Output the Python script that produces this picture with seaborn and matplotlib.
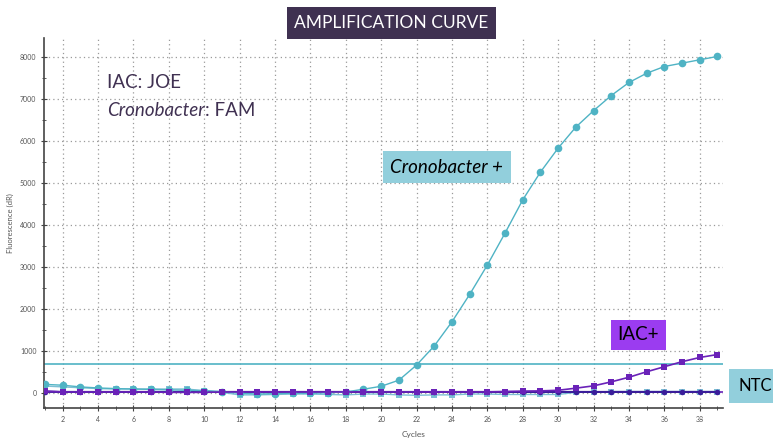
import numpy as np
import pandas as pd
import matplotlib.pyplot as plt
import seaborn as sns
from matplotlib.ticker import MultipleLocator

# Cycles and fluorescence readings (dR)
cycles = list(range(1, 40))
crono_fam = [210, 190, 150, 125, 110, 100, 90, 80, 70, 60, 40, 0, -20, -10, 0, 0, 10, 30,
             95, 165, 310, 670, 1125, 1700, 2350, 3050, 3810, 4600, 5260, 5830, 6330, 6720,
             7080, 7390, 7610, 7770, 7850, 7930, 8010]
ntc_fam = [170, 150, 130, 110, 100, 100, 100, 100, 100, 60, 20, -40, -40, -30, -20, -20, -30,
           -40, -20, -20, -40, -50, -40, -40, -20, -20, -30, -30, -30, -30, 20, 30, 40, 40,
           40, 40, 40, 40, 40]
iac_joe = [50, 30, 30, 30, 30, 30, 30, 20, 20, 20, 30, 30, 30, 30, 30, 30, 30, 30, 30, 30,
           30, 30, 30, 30, 30, 30, 40, 50, 55, 70, 120, 175, 270, 380, 510, 630, 750, 850, 920]
ntc_joe = [40, 30, 30, 30, 30, 30, 30, 30, 30, 30, 30, 30, 30, 30, 30, 30, 30, 30, 30, 30,
           30, 30, 30, 30, 30, 30, 30, 30, 30, 30, 30, 30, 30, 30, 30, 30, 30, 30, 30]
threshold_fam = 690
threshold_joe = 35

teal = "#4fb3c4"
purple = "#6a22b8"

df = pd.DataFrame({"Cycle": cycles, "crono": crono_fam, "ntc_fam": ntc_fam,
                   "iac": iac_joe, "ntc_joe": ntc_joe})

sns.set_style("white")
plt.rcParams["font.family"] = ["Lato", "DejaVu Sans"]

fig = plt.figure(figsize=(7.73, 4.41), dpi=100)
ax = fig.add_axes([0.057, 0.075, 0.878, 0.839])

# threshold lines
ax.axhline(threshold_fam, color=teal, linewidth=1.2, zorder=2)
ax.axhline(threshold_joe, color=purple, linewidth=1.2, zorder=2)

sns.lineplot(data=df, x="Cycle", y="ntc_fam", ax=ax, color="#6fb8d0", linewidth=1,
             marker="s", markersize=5, markeredgewidth=0, alpha=0.9, zorder=3)
sns.lineplot(data=df, x="Cycle", y="ntc_joe", ax=ax, color="#3a1d9a", linewidth=1.5,
             marker="o", markersize=4, markeredgewidth=0, zorder=3)
sns.lineplot(data=df, x="Cycle", y="crono", ax=ax, color=teal, linewidth=1,
             marker="o", markersize=5.5, markeredgewidth=0, zorder=4)
sns.lineplot(data=df, x="Cycle", y="iac", ax=ax, color=purple, linewidth=1.2,
             marker="s", markersize=5, markeredgewidth=0, zorder=4)

ax.set_xlim(0.95, 39.3)
ax.set_ylim(-350, 8450)
ax.xaxis.set_major_locator(MultipleLocator(2))
ax.xaxis.set_minor_locator(MultipleLocator(1))
ax.yaxis.set_major_locator(MultipleLocator(1000))
ax.yaxis.set_minor_locator(MultipleLocator(500))
ax.grid(True, which="major", color="#9a9a9a", linestyle=(0, (1, 2.5)), linewidth=0.9)
ax.tick_params(which="both", direction="inout", length=4, color="#444444",
               labelsize=5, labelcolor="#555555", left=True, bottom=True)
ax.tick_params(which="minor", length=3)
for s in ["top", "right"]:
    ax.spines[s].set_visible(False)
for s in ["left", "bottom"]:
    ax.spines[s].set_color("#444444")
    ax.spines[s].set_linewidth(1.2)

ax.set_xlabel("Cycles", fontsize=6, color="#555555")
ax.xaxis.set_label_coords(0.545, -0.062)
ax.set_ylabel("Fluorescence (dR)", fontsize=5.5, color="#555555", labelpad=4)

# annotations
fig.text(0.139, 0.80, "IAC: JOE", fontsize=13.5, color="#403152")
t1 = fig.text(0.139, 0.738, "Cronobacter", fontsize=13.5, style="italic", color="#403152")
ax.annotate(": FAM", xy=(1, 0), xycoords=t1, fontsize=13.5, color="#403152",
            ha="left", va="bottom", annotation_clip=False)
fig.text(0.5065, 0.948, "AMPLIFICATION CURVE", fontsize=12.5, color="white",
         ha="center", va="center",
         bbox=dict(boxstyle="square,pad=0.45", facecolor="#3f3151", edgecolor="none"))
fig.text(0.578, 0.621, "Cronobacter +", fontsize=13.5, style="italic", color="black",
         ha="center", va="center",
         bbox=dict(boxstyle="square,pad=0.4", facecolor="#92cfdc", edgecolor="none"))
fig.text(0.826, 0.241, "IAC+", fontsize=13.5, color="black", ha="center", va="center",
         bbox=dict(boxstyle="square,pad=0.35", facecolor="#9b3cf0", edgecolor="none"))
fig.text(0.955, 0.124, "NTC", fontsize=12, color="black", ha="left", va="center",
         bbox=dict(boxstyle="square,pad=0.55", facecolor="#92cfdc", edgecolor="none"))

fig.savefig("out.png", dpi=100)
